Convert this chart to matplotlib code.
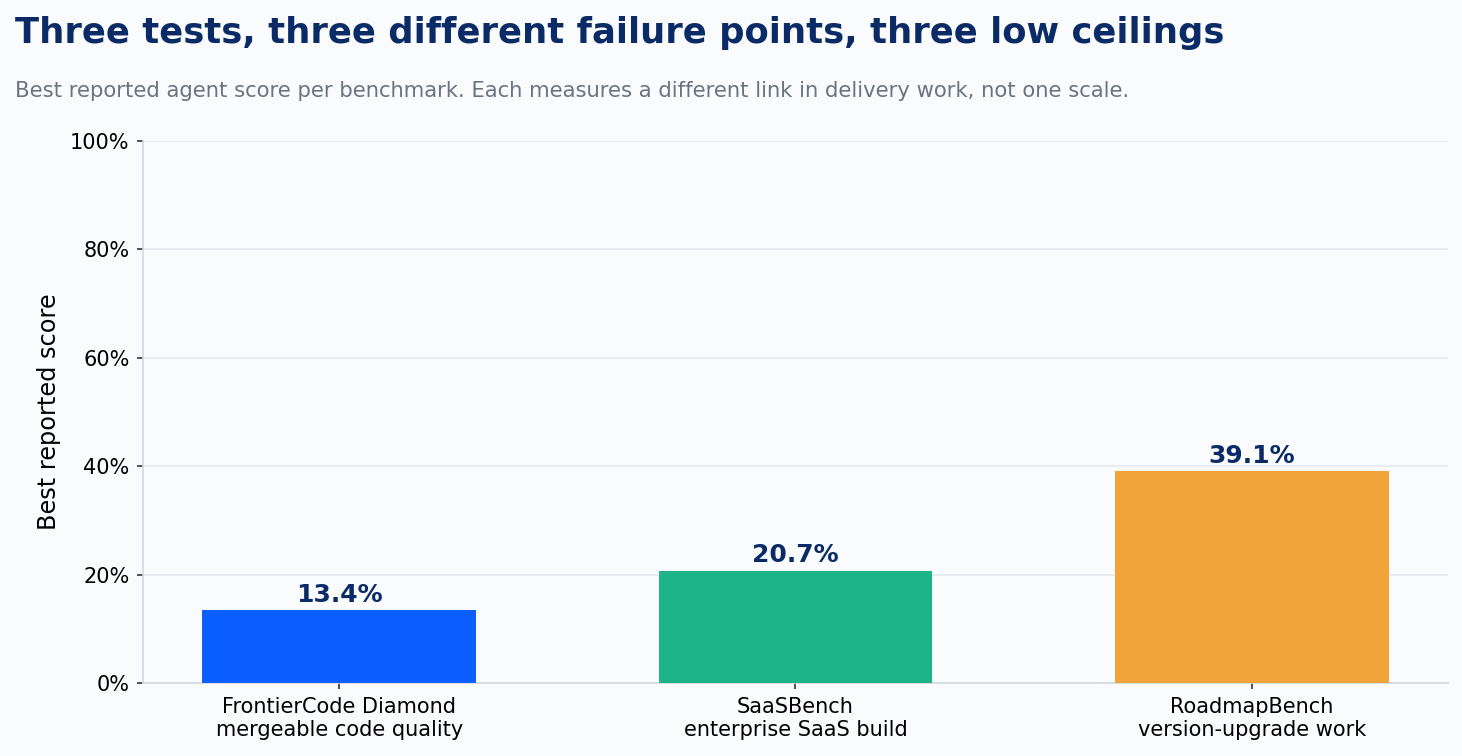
import numpy as np
import matplotlib
matplotlib.use("Agg")
import matplotlib.pyplot as plt
from matplotlib.ticker import FuncFormatter

# --- data ---
benchmarks = ["FrontierCode Diamond", "SaaSBench", "RoadmapBench"]
measures = ["mergeable code quality", "enterprise SaaS build", "version-upgrade work"]
scores = [13.4, 20.7, 39.1]
bar_colors = ["#0B5FFF", "#1DB489", "#F2A43B"]

TITLE = "Three tests, three different failure points, three low ceilings"
SUBTITLE = ("Best reported agent score per benchmark. Each measures a different link "
            "in delivery work, not one scale.")

BG = "#FAFBFD"
NAVY = "#0B2B66"
GREY = "#6B7280"
GRID = "#E6E9EE"
SPINE = "#D3D7DE"

DPI = 150
fig = plt.figure(figsize=(1462 / DPI, 756 / DPI), dpi=DPI, facecolor=BG)
ax = fig.add_axes([0.0978, 0.0966, 0.8926, 0.7169], facecolor=BG)

x = np.arange(len(benchmarks))
ax.bar(x, scores, width=0.6, color=bar_colors, zorder=3)

for xi, v in zip(x, scores):
    ax.annotate(f"{v:.1f}%", (xi, v), xytext=(0, 4), textcoords="offset points",
                ha="center", va="baseline", fontsize=12, fontweight="bold", color=NAVY)

ax.set_xlim(-0.43, 2.43)
ax.set_ylim(0, 100)
ax.set_yticks(np.arange(0, 101, 20))
ax.yaxis.set_major_formatter(FuncFormatter(lambda v, p: f"{v:.0f}%"))
ax.set_xticks(x)
ax.set_xticklabels([f"{b}\n{m}" for b, m in zip(benchmarks, measures)], fontsize=10)
ax.tick_params(axis="y", labelsize=10, length=3, width=0.8, color="#333333")
ax.tick_params(axis="x", length=3, width=0.8, color="#333333")

ax.grid(axis="y", color=GRID, linewidth=0.8, zorder=0)
ax.set_axisbelow(True)
for s in ["top", "right"]:
    ax.spines[s].set_visible(False)
for s in ["left", "bottom"]:
    ax.spines[s].set_color(SPINE)
    ax.spines[s].set_linewidth(0.8)

ax.set_ylabel("Best reported score", fontsize=11.5, labelpad=4.5)

fig.text(0.0103, 0.943, TITLE, fontsize=17, fontweight="bold", color=NAVY,
         ha="left", va="baseline")
fig.text(0.0103, 0.872, SUBTITLE, fontsize=10.15, color=GREY, ha="left", va="baseline")

fig.savefig("out.png", dpi=DPI, facecolor=BG)
